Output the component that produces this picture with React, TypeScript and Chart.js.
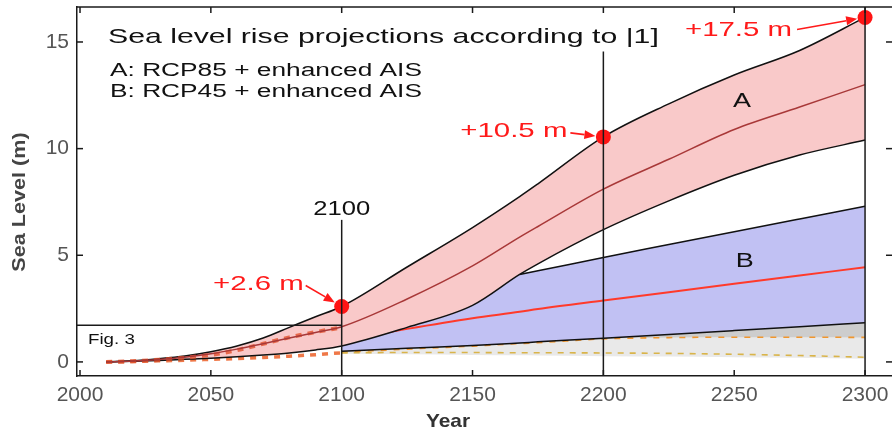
import React, { useEffect, useRef } from "react";
import { Chart, registerables } from "chart.js";

Chart.register(...registerables);

// ---------- data ----------
const years = [2010, 2020, 2030, 2040, 2050, 2060, 2070, 2080, 2090, 2100, 2125, 2150, 2168, 2175, 2200, 2225, 2250, 2275, 2300];
const n = null;
// Scenario A: RCP85 + enhanced AIS
const aUpper = [0, 0.05, 0.15, 0.28, 0.48, 0.75, 1.12, 1.62, 2.12, 2.6, 4.45, 6.3, 7.75, 8.35, 10.55, 12.1, 13.45, 14.6, 16.15];
const aMedian = [0, 0.04, 0.11, 0.22, 0.38, 0.6, 0.85, 1.12, 1.38, 1.65, 2.95, 4.5, 5.85, 6.35, 8.1, 9.5, 10.9, 11.95, 13.0];
const aLower = [0, 0.03, 0.07, 0.12, 0.17, 0.24, 0.32, 0.42, 0.56, 0.75, 1.62, 2.65, 4.1, 4.6, 6.2, 7.55, 8.75, 9.7, 10.4];
// Scenario B: RCP45 + enhanced AIS
const bUpper = [n, n, n, n, n, n, n, n, n, 0.75, 1.62, 2.65, 4.1, 4.27, 4.9, 5.5, 6.1, 6.7, 7.3];
const bMedian = [n, n, n, n, n, n, n, n, n, 1.0, 1.55, 2.05, 2.35, 2.48, 2.88, 3.27, 3.66, 4.05, 4.44];
const bLower = [n, n, n, n, n, n, n, n, n, 0.5, 0.64, 0.77, 0.89, 0.94, 1.11, 1.29, 1.47, 1.65, 1.84];
const bUpperSplitYear = 2168;
// underlying (Fig. 3) projections
const grayBottom = [n, n, n, n, n, n, n, n, n, 0.38, 0.36, 0.33, 0.31, 0.3, 0.27, 0.25, 0.22, 0.19, 0.15];
const orangeDash = [n, n, n, n, n, n, n, n, n, 0.45, 0.6, 0.74, 0.86, 0.9, 1.08, 1.14, 1.16, 1.16, 1.15];
const lowDash = [0, 0.02, 0.05, 0.08, 0.12, 0.16, 0.21, 0.27, 0.34, 0.42, 0.44, 0.44, 0.43, 0.43, 0.42, 0.4, 0.36, 0.3, 0.22];
const earlyDash = [0, 0.03, 0.1, 0.2, 0.33, 0.55, 0.85, 1.15, 1.4, 1.62, n, n, n, n, n, n, n, n, n];

// highlighted values
const markerYears = [2100, 2200, 2300];
const markerValues = [2.6, 10.55, 16.15];
const markerLabels = ["+2.6 m", "+10.5 m", "+17.5 m"];
const markerLineTops = [6.66, 14.55, null];
const fig3Level = 1.72;

const xTickValues = [2000, 2050, 2100, 2150, 2200, 2250, 2300];
const yTickValues = [0, 5, 10, 15];

const titleText = "Sea level rise projections according to |1]";
const subtitleA = "A: RCP85 + enhanced AIS";
const subtitleB = "B: RCP45 + enhanced AIS";

const FONT = "'Liberation Sans', Arial, Helvetica, sans-serif";

const pts = (arr: (number | null)[]) => years.map((x, i) => ({ x, y: arr[i] }));

function stretchText(ctx: CanvasRenderingContext2D, text: string, x: number, y: number, font: string, color: string, sx: number, align: CanvasTextAlign) {
  ctx.save();
  ctx.translate(x, y);
  ctx.scale(sx, 1);
  ctx.font = font;
  ctx.fillStyle = color;
  ctx.textAlign = align;
  ctx.textBaseline = "alphabetic";
  ctx.fillText(text, 0, 0);
  ctx.restore();
}

function arrow(ctx: CanvasRenderingContext2D, x1: number, y1: number, x2: number, y2: number, color: string) {
  const ang = Math.atan2(y2 - y1, x2 - x1);
  const hl = 11, hw = 4.5;
  const bx = x2 - hl * Math.cos(ang), by = y2 - hl * Math.sin(ang);
  ctx.strokeStyle = color;
  ctx.fillStyle = color;
  ctx.lineWidth = 1.6;
  ctx.beginPath();
  ctx.moveTo(x1, y1);
  ctx.lineTo(bx, by);
  ctx.stroke();
  ctx.beginPath();
  ctx.moveTo(x2, y2);
  ctx.lineTo(bx + hw * Math.sin(ang), by - hw * Math.cos(ang));
  ctx.lineTo(bx - hw * Math.sin(ang), by + hw * Math.cos(ang));
  ctx.closePath();
  ctx.fill();
}

const overlay = {
  id: "overlay",
  afterDatasetsDraw(chart: any) {
    const { ctx, chartArea: ca, scales } = chart;
    const xs = scales.x, ys = scales.y;
    const px = (v: number) => xs.getPixelForValue(v);
    const py = (v: number) => ys.getPixelForValue(v);
    ctx.save();
    const line = (x1: number, y1: number, x2: number, y2: number, w = 1.5, c = "#1a1a1a") => {
      ctx.strokeStyle = c;
      ctx.lineWidth = w;
      ctx.beginPath();
      ctx.moveTo(x1, y1);
      ctx.lineTo(x2, y2);
      ctx.stroke();
    };
    // frame top + inward ticks
    line(ca.left, ca.top, ca.right, ca.top);
    xTickValues.forEach((v) => {
      line(px(v), ca.bottom, px(v), ca.bottom - 6);
      line(px(v), ca.top, px(v), ca.top + 6);
    });
    yTickValues.forEach((v) => {
      line(ca.left, py(v), ca.left + 6, py(v));
      line(ca.right - 6, py(v), ca.right, py(v));
    });
    // Fig. 3 box line
    line(ca.left, py(fig3Level), px(markerYears[0]), py(fig3Level));
    stretchText(ctx, "Fig. 3", ca.left + 11, py(fig3Level) + 19, `15px ${FONT}`, "#111", 1.25, "left");
    // vertical year lines
    markerYears.forEach((yr, i) => {
      const top = markerLineTops[i] == null ? ca.top : py(markerLineTops[i] as number);
      line(px(yr), top, px(yr), ca.bottom);
    });
    stretchText(ctx, "2100", px(2100), py(markerLineTops[0] as number) - 5, `20px ${FONT}`, "#111", 1.28, "center");

    // arrows + labels
    const red = "#ff1a1a";
    const labelOff = [
      { lx: -38, ly: -16, ax: -36, ay: -21 },
      { lx: -36, ly: 0, ax: -33, ay: -4 },
      { lx: -73, ly: 19, ax: -68, ay: 12 },
    ];
    markerYears.forEach((yr, i) => {
      const cx = px(yr), cy = py(markerValues[i]);
      const o = labelOff[i];
      const ang = Math.atan2(-o.ay, -o.ax);
      arrow(ctx, cx + o.ax, cy + o.ay, cx - 8 * Math.cos(ang), cy - 8 * Math.sin(ang), red);
      stretchText(ctx, markerLabels[i], cx + o.lx, cy + o.ly, `21px ${FONT}`, red, 1.4, "right");
    });

    // title and subtitles
    stretchText(ctx, titleText, ca.left + 31, ca.top + 36, `21px ${FONT}`, "#111", 1.44, "left");
    stretchText(ctx, subtitleA, ca.left + 33, ca.top + 69, `18px ${FONT}`, "#111", 1.46, "left");
    stretchText(ctx, subtitleB, ca.left + 33, ca.top + 90, `18px ${FONT}`, "#111", 1.46, "left");
    // band labels
    stretchText(ctx, "A", px(2253), py(11.95), `20px ${FONT}`, "#111", 1.35, "center");
    stretchText(ctx, "B", px(2254), py(4.45), `20px ${FONT}`, "#111", 1.35, "center");

    // axis titles
    ctx.save();
    ctx.translate(20, 202);
    ctx.rotate(-Math.PI / 2);
    ctx.scale(1.2, 1);
    ctx.font = `bold 18px ${FONT}`;
    ctx.fillStyle = "#444";
    ctx.textAlign = "center";
    ctx.textBaseline = "middle";
    ctx.fillText("Sea Level (m)", 0, 0);
    ctx.restore();
    ctx.save();
    ctx.translate(448, 422);
    ctx.scale(1.1, 1);
    ctx.font = `bold 19px ${FONT}`;
    ctx.fillStyle = "#333";
    ctx.textAlign = "center";
    ctx.textBaseline = "middle";
    ctx.fillText("Year", 0, 0);
    ctx.restore();
    ctx.restore();
  },
};

const zeroPad = (axis: any) => {
  axis.paddingLeft = 0;
  axis.paddingRight = 0;
  axis.paddingTop = 0;
  axis.paddingBottom = 0;
};

export default function App() {
  const ref = useRef<HTMLCanvasElement | null>(null);
  useEffect(() => {
    if (!ref.current) return;
    const black = "#111";
    const base = { pointRadius: 0, pointHoverRadius: 0, cubicInterpolationMode: "monotone" as const, fill: false, spanGaps: false };
    const chart = new Chart(ref.current, {
      type: "line",
      data: {
        datasets: [
          // 0 light gray bottom boundary (invisible)
          { ...base, label: "gray bottom", data: pts(grayBottom), borderWidth: 0, borderColor: "transparent", order: 120 },
          // 1 light gray fill from B lower down to gray bottom
          { ...base, label: "gray fill", data: pts(bLower), borderWidth: 0, borderColor: "transparent", fill: { target: 0 }, backgroundColor: "#e9e9e9", order: 110 },
          // 2 orange dashed line
          { ...base, label: "orange dashed", data: pts(orangeDash), borderWidth: 1.6, borderColor: "#f0962e", borderDash: [6, 7], order: 100 },
          // 3 dark gray fill from B lower to orange dashed
          { ...base, label: "dark gray", data: pts(bLower), borderWidth: 0, borderColor: "transparent", fill: { target: 2 }, backgroundColor: "#cdcdcd", order: 105 },
          // 4 low dashed line
          {
            ...base, label: "low dashed", data: pts(lowDash), borderWidth: 2.5, borderColor: "#ee6a2c", borderDash: [6, 6], order: 98,
            segment: {
              borderColor: (c: any) => (c.p0.parsed.x >= 2100 ? "#d9b44a" : "rgba(236,96,40,0.85)"),
              borderWidth: (c: any) => (c.p0.parsed.x >= 2100 ? 1.6 : 3.5),
            },
          },
          // 5 B lower
          { ...base, label: "B lower", data: pts(bLower), borderWidth: 1.5, borderColor: black, order: 80 },
          // 6 B upper: blue fill only
          { ...base, label: "B band", data: pts(bUpper), borderWidth: 0, borderColor: "transparent", fill: { target: 5 }, backgroundColor: "#c1c1f3", order: 85 },
          // 7 B upper visible boundary
          { ...base, label: "B upper", data: pts(bUpper.map((v, i) => (years[i] >= bUpperSplitYear ? v : null))), borderWidth: 1.5, borderColor: black, order: 79 },
          // 8 B median
          { ...base, label: "B median", data: pts(bMedian), borderWidth: 2, borderColor: "#ff3a2a", order: 78 },
          // 9 A lower
          { ...base, label: "A lower", data: pts(aLower), borderWidth: 1.5, borderColor: black, order: 48 },
          // 10 A upper with pink fill
          { ...base, label: "A upper", data: pts(aUpper), borderWidth: 1.5, borderColor: black, fill: { target: 9 }, backgroundColor: "#f9c9c9", order: 50 },
          // 11 early red dashed
          { ...base, label: "early dashed", data: pts(earlyDash), borderWidth: 4, borderColor: "rgba(226,80,44,0.8)", borderDash: [6, 6], order: 45 },
          // 12 A median
          { ...base, label: "A median", data: pts(aMedian), borderWidth: 1.5, borderColor: "#a83838", order: 40 },
          // 13 highlighted points
          {
            label: "highlights", data: markerYears.map((x, i) => ({ x, y: markerValues[i] })), showLine: false,
            pointRadius: 7.5, pointHoverRadius: 7.5, pointBackgroundColor: "#ff1414", pointBorderWidth: 0, borderColor: "#ff1414", order: 0,
          },
        ],
      },
      options: {
        responsive: false,
        animation: false,
        devicePixelRatio: 1,
        clip: false,
        layout: { autoPadding: false, padding: { top: 7, right: 0, left: 0, bottom: 0 } },
        plugins: { legend: { display: false }, tooltip: { enabled: false }, title: { display: false } },
        scales: {
          x: {
            type: "linear",
            min: 1998.85,
            max: 2310.3,
            grid: { display: false, drawTicks: false },
            border: { display: true, color: "#1a1a1a", width: 1.5 },
            ticks: { color: "#555", font: { family: FONT, size: 21 }, padding: 7, autoSkip: false, maxRotation: 0, callback: (v: any) => String(v) },
            afterBuildTicks: (axis: any) => { axis.ticks = xTickValues.map((v) => ({ value: v })); },
            afterFit: (axis: any) => { axis.height = 58; zeroPad(axis); },
          },
          y: {
            type: "linear",
            min: -0.66,
            max: 16.64,
            grid: { display: false, drawTicks: false },
            border: { display: true, color: "#1a1a1a", width: 1.5 },
            ticks: { color: "#555", font: { family: FONT, size: 21 }, padding: 8, callback: (v: any) => String(v) },
            afterBuildTicks: (axis: any) => { axis.ticks = yTickValues.map((v) => ({ value: v })); },
            afterFit: (axis: any) => { axis.width = 77; zeroPad(axis); },
          },
        },
      },
      plugins: [overlay],
    } as any);
    return () => chart.destroy();
  }, []);
  return (
    <div style={{ position: "fixed", left: 0, top: 0, width: 892, height: 434, background: "#fff" }}>
      <canvas ref={ref} width={892} height={434} style={{ display: "block" }} />
    </div>
  );
}
